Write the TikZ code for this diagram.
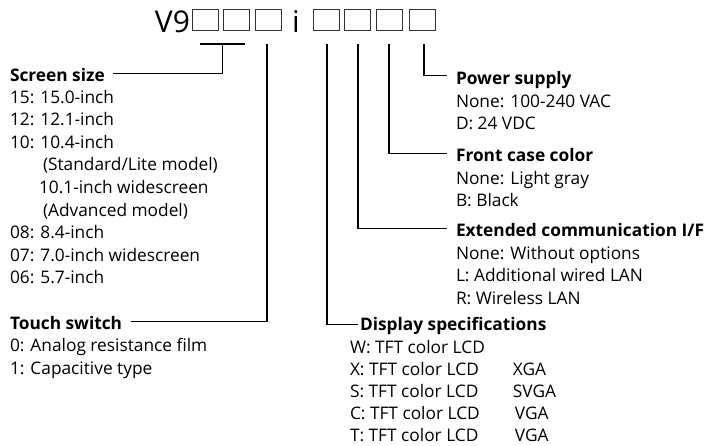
\documentclass[tikz,border=0pt]{standalone}
\usepackage{fontspec}
\setmainfont{Open Sans}
\usetikzlibrary{calc}
\begin{document}
\begin{tikzpicture}[x=1pt,y=-1pt,
  every node/.style={inner sep=0pt, outer sep=0pt},
  txt/.style={anchor=base west, font=\fontsize{17.3}{20}\selectfont},
  hd/.style={txt, font=\fontsize{17.3}{20}\selectfont\bfseries},
  title/.style={font=\fontsize{30}{34}\selectfont},
  digit/.style={draw=black!80, line width=0.8pt, minimum width=26pt, minimum height=21pt},
  conn/.style={draw=black, line width=1.3pt}]
\useasboundingbox (0,0) rectangle (709,445);
% title
\node[title, anchor=base east] (v9) at (190,32) {V9};
\node[digit] (d1) at (205.5,19.5) {};
\node[digit] (d2) at (236.5,19.5) {};
\node[digit] (d3) at (268.5,19.5) {};
\node[title, anchor=base] (i) at (296,32) {i};
\node[digit] (d4) at (326,19.5) {};
\node[digit] (d5) at (357.5,19.5) {};
\node[digit] (d6) at (389.5,19.5) {};
\node[digit] (d7) at (422,19.5) {};
% headings
\node[hd] (ss) at (10,81) {Screen size};
\node[hd] (ts) at (10,329) {Touch switch};
\node[hd] (ps) at (456,84) {Power supply};
\node[hd] (fc) at (456,161) {Front case color};
\node[hd] (ec) at (456,236) {Extended communication I/F};
\node[hd] (ds) at (360,330) {Display specifications};
% screen size items
\node[txt] at (10,103) {15: 15.0-inch};
\node[txt] at (10,125.6) {12: 12.1-inch};
\node[txt] at (10,148.2) {10: 10.4-inch};
\node[txt] at (43,170.8) {(Standard/Lite model)};
\node[txt] at (39,193.4) {10.1-inch widescreen};
\node[txt] at (43,216) {(Advanced model)};
\node[txt] at (10,238.6) {08: 8.4-inch};
\node[txt] at (10,261.2) {07: 7.0-inch widescreen};
\node[txt] at (10,283.8) {06: 5.7-inch};
% touch switch items
\node[txt] at (10,351.6) {0: Analog resistance film};
\node[txt] at (10,374.2) {1: Capacitive type};
% power supply
\node[txt] at (456,107) {None: 100-240 VAC};
\node[txt] at (456,129.5) {D: 24 VDC};
% front case color
\node[txt] at (456,184) {None: Light gray};
\node[txt] at (456,206.5) {B: Black};
% extended comm
\node[txt] at (456,259) {None: Without options};
\node[txt] at (456,281.5) {L: Additional wired LAN};
\node[txt] at (456,304) {R: Wireless LAN};
% display specs
\node[txt] at (350,353.5) {W: TFT color LCD};
\node[txt] at (350,375.5) {\makebox[163pt][l]{X: TFT color LCD}XGA};
\node[txt] at (350,397.5) {\makebox[163pt][l]{S: TFT color LCD}SVGA};
\node[txt] at (350,419.5) {\makebox[165pt][l]{C: TFT color LCD}VGA};
\node[txt] at (350,441.5) {\makebox[165pt][l]{T: TFT color LCD}VGA};
% connectors
\coordinate (b1) at ($(d1.south)+(-6,14)$);
\coordinate (b2) at ($(d2.south)+(8.5,14)$);
\draw[conn] (b1) -- (b2);
\coordinate (bm) at ($(b1)!0.5!(b2)$);
\draw[conn] (bm) |- ($(ss.east)+(8,-1)$);
\draw[conn] ($(d3.south)+(-1.5,14)$) |- ($(ts.east)+(9,-1)$);
\draw[conn] ($(d4.south)+(1,14)$) |- ($(ds.west)+(-2,-1)$);
\draw[conn] ($(d5.south)+(0.5,14)$) |- ($(ec.west)+(-9,-1)$);
\draw[conn] ($(d6.south)+(-0.5,14)$) |- ($(fc.west)+(-9,-1)$);
\draw[conn] ($(d7.south)+(2,14)$) |- ($(ps.west)+(-9,-4)$);
\end{tikzpicture}
\end{document}
